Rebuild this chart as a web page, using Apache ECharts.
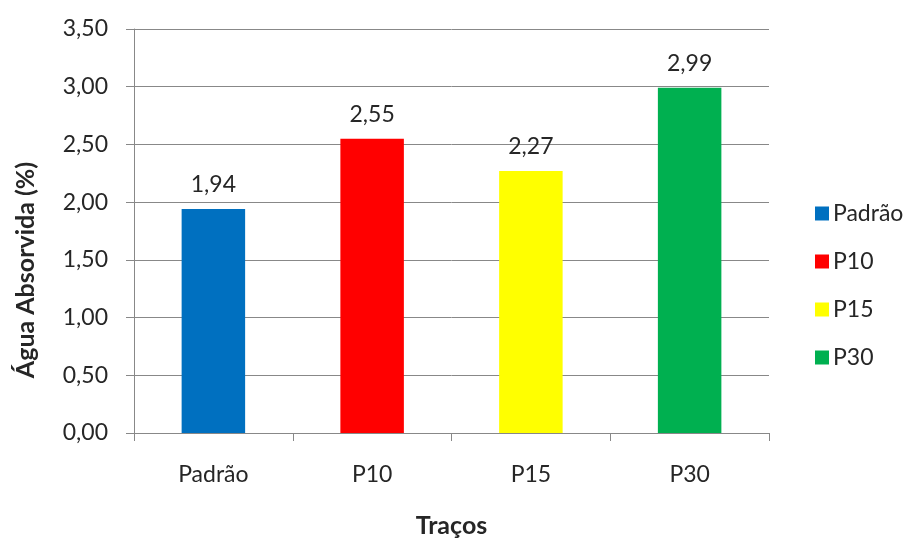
<!DOCTYPE html>
<html>
<head>
<meta charset="utf-8">
<script src="https://cdn.jsdelivr.net/npm/echarts@6/dist/echarts.min.js"></script>
<style>
  html, body { margin: 0; padding: 0; background: #fff; }
  #chart { width: 911px; height: 538px; }
</style>
</head>
<body>
<div id="chart"></div>
<script>
// Water absorption per mix
const categories = ['Padrão', 'P10', 'P15', 'P30'];
const values = [1.94, 2.55, 2.27, 2.99];
const colors = ['#0070C0', '#FF0000', '#FFFF00', '#00B050'];
const yTicks = [0, 0.5, 1, 1.5, 2, 2.5, 3, 3.5];

const fmt = v => v.toFixed(2).replace('.', ',');
const FONT = 'Lato, "Open Sans", sans-serif';
const TEXT = '#262626';

// One series per mix so each gets a legend entry; barGap -100% keeps each bar centred on its category
const series = categories.map((name, i) => ({
  name: name,
  type: 'bar',
  barWidth: '40%',
  barGap: '-100%',
  itemStyle: { color: colors[i] },
  label: {
    show: true,
    position: 'top',
    distance: 13,
    color: TEXT,
    fontFamily: FONT,
    fontSize: 23,
    formatter: p => fmt(p.value)
  },
  data: categories.map((c, j) => (j === i ? values[i] : null))
}));

const chart = echarts.init(document.getElementById('chart'));
chart.setOption({
  animation: false,
  textStyle: { fontFamily: FONT },
  grid: { left: 134, right: 142, top: 29, bottom: 105, outerBoundsMode: 'none', containLabel: false },
  legend: {
    orient: 'vertical',
    left: 810,
    top: 197,
    itemWidth: 14,
    itemHeight: 14,
    itemGap: 25,
    icon: 'rect',
    textStyle: { fontFamily: FONT, fontSize: 23, color: TEXT, padding: [0, 0, 0, -1] },
    data: categories
  },
  xAxis: {
    type: 'category',
    data: categories,
    name: 'Traços',
    nameLocation: 'middle',
    nameGap: 80,
    nameTextStyle: { fontFamily: FONT, fontSize: 25, fontWeight: 'bold', color: TEXT },
    axisLine: { lineStyle: { color: '#888', width: 1 } },
    axisTick: { show: true, length: 8, lineStyle: { color: '#888' } },
    axisLabel: { margin: 30, fontFamily: FONT, fontSize: 23, color: TEXT }
  },
  yAxis: {
    type: 'value',
    min: yTicks[0],
    max: yTicks[yTicks.length - 1],
    interval: 0.5,
    name: 'Água Absorvida (%)',
    nameLocation: 'middle',
    nameGap: 96,
    nameTextStyle: {
      fontFamily: FONT, fontSize: 25, fontWeight: 'bold', color: TEXT,
      padding: [0, 78, 0, 0]
    },
    axisLine: { show: true, lineStyle: { color: '#888', width: 1 } },
    axisTick: { show: true, length: 8, lineStyle: { color: '#888' } },
    axisLabel: { margin: 26, fontFamily: FONT, fontSize: 23, color: TEXT, formatter: v => fmt(v) },
    splitLine: { lineStyle: { color: '#888', width: 1 } }
  },
  series: series
});
</script>
</body>
</html>
